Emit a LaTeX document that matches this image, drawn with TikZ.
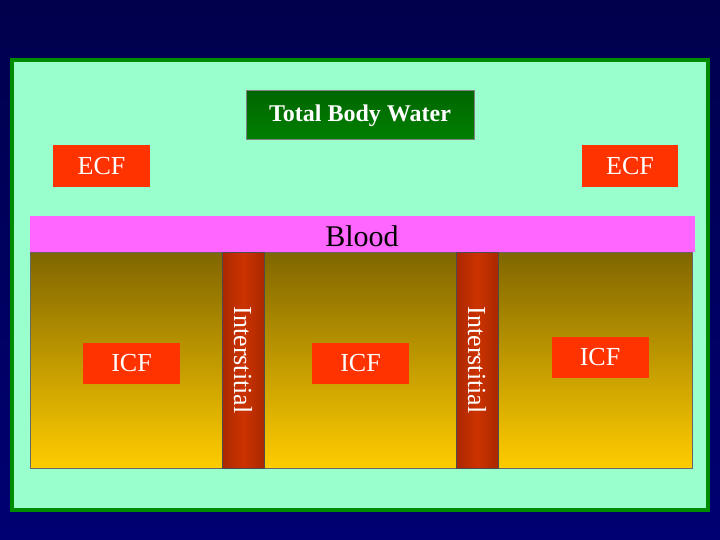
\documentclass[tikz,border=0pt]{standalone}
\usepackage{fontspec}
\setmainfont{Liberation Serif}
\definecolor{mint}{RGB}{153,255,204}
\definecolor{bloodc}{RGB}{255,102,255}
\definecolor{brownc}{RGB}{128,102,0}
\definecolor{yellc}{RGB}{255,204,0}
\definecolor{boxred}{RGB}{255,51,0}
\definecolor{intred}{RGB}{204,51,0}
\definecolor{intdark}{RGB}{170,40,0}
\begin{document}
\begin{tikzpicture}[x=1pt,y=-1pt]
\useasboundingbox (0,0) rectangle (720,540);
\shade[top color=blue!30!black, bottom color=blue!45!black] (0,0) rectangle (720,540);
\draw[line width=4pt,draw=green!55!black,fill=mint] (12,60) rectangle (708,510);
\node[draw=gray,line width=1pt,top color=green!40!black,bottom color=green!50!black,middle color=green!45!black,text=white,font=\bfseries\fontsize{24}{26}\selectfont,minimum width=228,minimum height=49,inner sep=0] (tbw) at (360,115.5) {Total Body Water};
\fill[boxred] (53,145) rectangle (150,187);
\node[text=white,font=\fontsize{26}{28}\selectfont] (ecfl) at (101.5,166) {ECF};
\fill[boxred] (582,145) rectangle (678,187);
\node[text=white,font=\fontsize{26}{28}\selectfont] (ecfr) at (630,166) {ECF};
\fill[bloodc] (30,216) rectangle (695,252);
\node[font=\fontsize{30}{32}\selectfont] (blood) at (362,236) {Blood};
\shade[top color=brownc,bottom color=yellc] (30,252) rectangle (692,468);
\draw[black!60] (30,252) rectangle (692,468);
\foreach \x/\n in {222/ia,456/ib}{
  \shade[left color=intdark,right color=intdark,middle color=intred] (\x,252) rectangle (\x+42,468);
  \draw[black!70] (\x,252) rectangle (\x+42,468);
  \node[rotate=-90,text=white,font=\fontsize{26}{28}\selectfont] (\n) at (\x+21,360) {Interstitial};
}
\foreach \x/\y/\n in {131.5/363.5/c1,360.5/363.5/c2,600/357/c3}{
  \fill[boxred] (\x-48.5,\y-20.5) rectangle (\x+48.5,\y+20.5);
  \node[text=white,font=\fontsize{26}{28}\selectfont] (\n) at (\x,\y) {ICF};
}
\end{tikzpicture}
\end{document}
